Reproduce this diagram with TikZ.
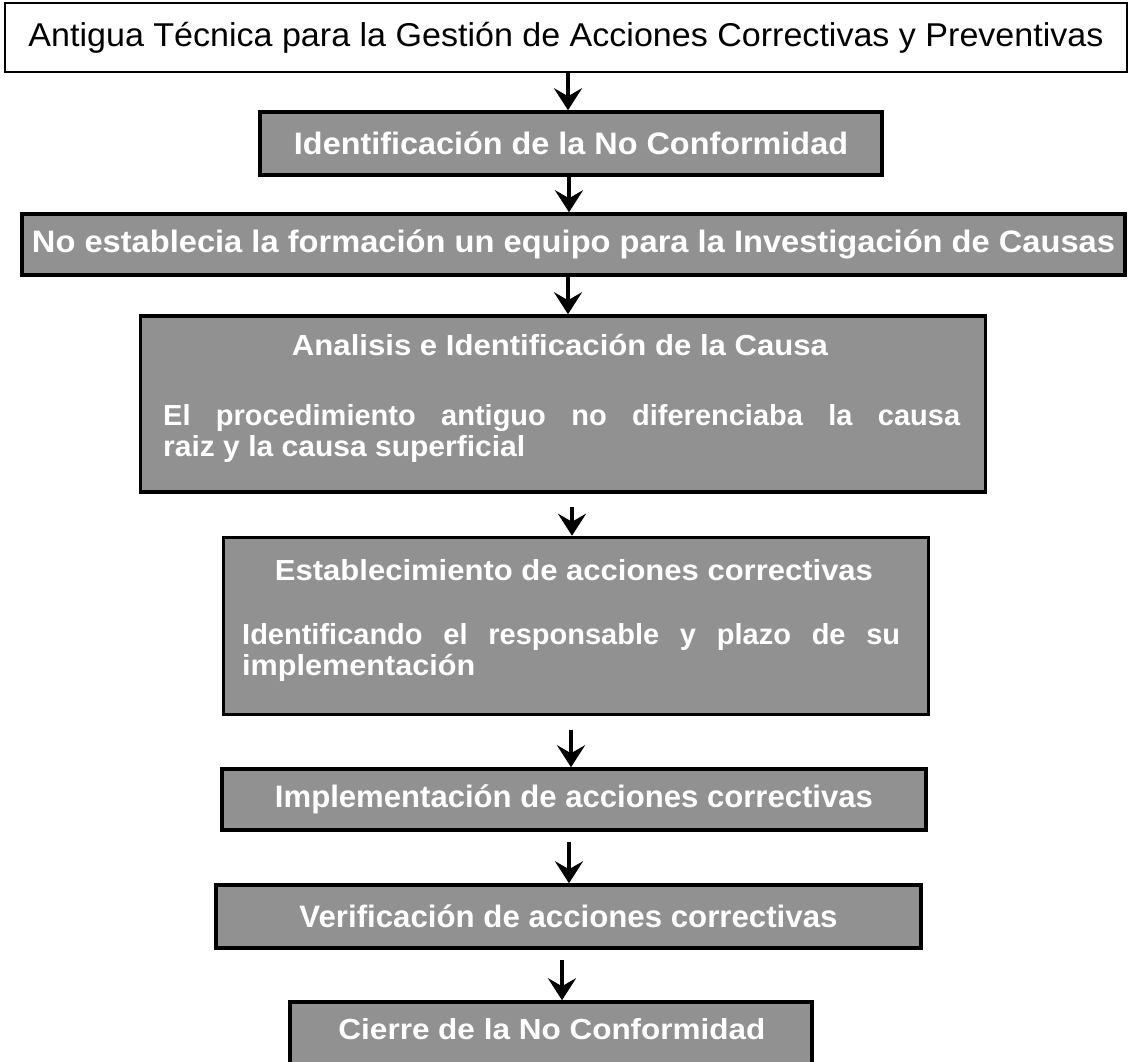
\documentclass[tikz,border=0pt]{standalone}
\usepackage{fontspec}
\setmainfont{Liberation Sans}
\usepackage{graphicx}
\usetikzlibrary{arrows.meta}

\definecolor{boxgray}{gray}{0.57}
\newcommand\fitw[2]{\resizebox{#1}{\height}{#2}}

\tikzset{
  titlebox/.style={draw=black, line width=2pt, fill=white, inner sep=0pt,
    font=\fontsize{33}{33}\selectfont},
  stepbox/.style={draw=black, line width=3.5pt, fill=boxgray, inner sep=0pt,
    text=white, font=\bfseries\fontsize{31}{31}\selectfont},
  linetxt/.style={text=white, inner sep=0pt,
    font=\bfseries\fontsize{29}{29}\selectfont},
  flow/.style={line width=3.5pt, -{Stealth[length=22pt,width=28pt,inset=8pt]}},
}

\begin{document}
\begin{tikzpicture}[x=1pt,y=-1pt]
\clip (0,0) rectangle (1130,1062);
\fill[white] (0,0) rectangle (1130,1062);

% header
\node[titlebox, minimum width=1122pt, minimum height=69pt] (title) at (566,37.5)
  {\fitw{1075pt}{Antigua Técnica para la Gestión de Acciones Correctivas y Preventivas}};

% single-line steps
\node[stepbox, minimum width=622pt, minimum height=63pt] (b2) at (571,143.5)
  {\fitw{554pt}{Identificación de la No Conformidad}};
\node[stepbox, minimum width=1103pt, minimum height=61pt] (b3) at (573.5,244.5)
  {\fitw{1083pt}{No establecia la formación un equipo para la Investigación de Causas}};

% cause analysis
\node[stepbox, minimum width=845pt, minimum height=176pt] (b4) at (563,404) {};
\node[linetxt, anchor=base] (b4h) at (560,355)
  {\fitw{536pt}{Analisis e Identificación de la Causa}};
\node[linetxt, anchor=base west] (b4a) at (163,425)
  {\makebox[797pt][s]{El procedimiento antiguo no diferenciaba la causa}};
\node[linetxt, anchor=base west] (b4b) at (163,456) {\fitw{362pt}{raiz y la causa superficial}};

% corrective actions
\node[stepbox, minimum width=705pt, minimum height=177pt] (b5) at (576,626) {};
\node[linetxt, anchor=base] (b5h) at (574,580)
  {\fitw{598pt}{Establecimiento de acciones correctivas}};
\node[linetxt, anchor=base west] (b5a) at (242,644)
  {\makebox[658pt][s]{Identificando el responsable y plazo de su}};
\node[linetxt, anchor=base west] (b5b) at (242,675) {\fitw{233pt}{implementación}};

\node[stepbox, minimum width=704pt, minimum height=61pt] (b6) at (574,799.5)
  {\fitw{598pt}{Implementación de acciones correctivas}};
\node[stepbox, minimum width=705pt, minimum height=63pt] (b7) at (568.5,916.5)
  {\fitw{538pt}{Verificación de acciones correctivas}};

% closing step (runs past the lower edge)
\node[stepbox, minimum width=522pt, minimum height=88pt] (b8) at (551,1046) {};
\node[linetxt] (b8t) at (552,1029) {\fitw{427pt}{Cierre de la No Conformidad}};

% connectors
\draw[flow] ([xshift=2pt]title.south) -- ([xshift=-3pt]b2.north);
\draw[flow] ([xshift=-2pt]b2.south) -- ([xshift=-4.5pt]b3.north);
\draw[flow] ([xshift=-5.5pt]b3.south) -- ([xshift=5pt]b4.north);
\draw[flow] ([xshift=9pt,yshift=-13pt]b4.south) -- ([xshift=-4pt]b5.north);
\draw[flow] ([xshift=-5pt,yshift=-14pt]b5.south) -- ([xshift=-3pt]b6.north);
\draw[flow] ([xshift=-5pt,yshift=-10pt]b6.south) -- ([xshift=0.5pt]b7.north);
\draw[flow] ([xshift=-6.5pt,yshift=-10pt]b7.south) -- ([xshift=11pt]b8.north);
\end{tikzpicture}
\end{document}
